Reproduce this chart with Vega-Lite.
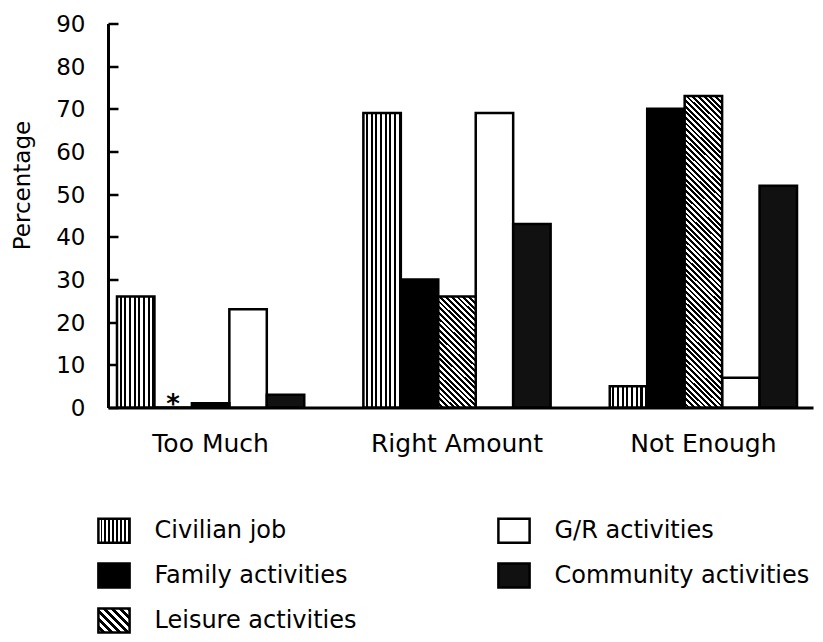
{
  "$schema": "https://vega.github.io/schema/vega-lite/v6.json",
  "width": 705,
  "height": 384,
  "autosize": {"type": "none"},
  "padding": {"left": 108, "top": 23.5, "right": 10, "bottom": 234.5},
  "background": "white",
  "config": {
    "view": {"stroke": null},
    "font": "DejaVu Sans",
    "axis": {"grid": false, "domainColor": "#000", "tickColor": "#000", "labelColor": "#000", "titleColor": "#000", "labelFont": "DejaVu Sans", "titleFont": "DejaVu Sans"}
  },
  "data": {
    "values": [
      {"group": "Too Much", "series": "Civilian job", "value": 26, "note": ""},
      {"group": "Too Much", "series": "Family activities", "value": 0, "note": "*"},
      {"group": "Too Much", "series": "Leisure activities", "value": 1, "note": ""},
      {"group": "Too Much", "series": "G/R activities", "value": 23, "note": ""},
      {"group": "Too Much", "series": "Community activities", "value": 3, "note": ""},
      {"group": "Right Amount", "series": "Civilian job", "value": 69, "note": ""},
      {"group": "Right Amount", "series": "Family activities", "value": 30, "note": ""},
      {"group": "Right Amount", "series": "Leisure activities", "value": 26, "note": ""},
      {"group": "Right Amount", "series": "G/R activities", "value": 69, "note": ""},
      {"group": "Right Amount", "series": "Community activities", "value": 43, "note": ""},
      {"group": "Not Enough", "series": "Civilian job", "value": 5, "note": ""},
      {"group": "Not Enough", "series": "Family activities", "value": 70, "note": ""},
      {"group": "Not Enough", "series": "Leisure activities", "value": 73, "note": ""},
      {"group": "Not Enough", "series": "G/R activities", "value": 7, "note": ""},
      {"group": "Not Enough", "series": "Community activities", "value": 52, "note": ""}
    ]
  },
  "layer": [
    {
      "transform": [{"filter": "datum.series !== 'Leisure activities'"}],
      "mark": {"type": "bar", "stroke": "#000", "strokeWidth": 2.5},
      "encoding": {
        "x": {
          "field": "group", "type": "nominal",
          "scale": {"domain": ["Too Much", "Right Amount", "Not Enough"], "paddingInner": 0.24, "paddingOuter": 0.0507, "align": 0.36},
          "axis": {"title": null, "labelAngle": 0, "ticks": false, "domainWidth": 3, "labelFontSize": 25, "labelPadding": 24}
        },
        "xOffset": {
          "field": "series", "type": "nominal",
          "scale": {"domain": ["Civilian job", "Family activities", "Leisure activities", "G/R activities", "Community activities"], "paddingInner": 0, "paddingOuter": 0}
        },
        "y": {
          "field": "value", "type": "quantitative",
          "scale": {"domain": [0, 90], "nice": false},
          "axis": {"title": "Percentage", "values": [0, 10, 20, 30, 40, 50, 60, 70, 80, 90], "tickSize": -10, "tickWidth": 2.5, "domainWidth": 3, "labelFontSize": 23, "labelPadding": 33, "labelOffset": 1, "titleFontSize": 23, "titleFontWeight": "normal", "titleX": -86, "titleY": 161.5, "titleAngle": -90, "titleAlign": "center", "titleBaseline": "middle"}
        },
        "fill": {
          "field": "series", "type": "nominal",
          "scale": {
            "domain": ["Civilian job", "Family activities", "Leisure activities", "G/R activities", "Community activities"],
            "range": [
              {"expr": "{gradient:'linear',x1:0,y1:0,x2:1,y2:0,stops:[{offset:0,color:'#fff'},{offset:0.07,color:'#fff'},{offset:0.07,color:'#000'},{offset:0.125,color:'#000'},{offset:0.125,color:'#fff'},{offset:0.195,color:'#fff'},{offset:0.195,color:'#000'},{offset:0.25,color:'#000'},{offset:0.25,color:'#fff'},{offset:0.32,color:'#fff'},{offset:0.32,color:'#000'},{offset:0.375,color:'#000'},{offset:0.375,color:'#fff'},{offset:0.445,color:'#fff'},{offset:0.445,color:'#000'},{offset:0.5,color:'#000'},{offset:0.5,color:'#fff'},{offset:0.57,color:'#fff'},{offset:0.57,color:'#000'},{offset:0.625,color:'#000'},{offset:0.625,color:'#fff'},{offset:0.695,color:'#fff'},{offset:0.695,color:'#000'},{offset:0.75,color:'#000'},{offset:0.75,color:'#fff'},{offset:0.82,color:'#fff'},{offset:0.82,color:'#000'},{offset:0.875,color:'#000'},{offset:0.875,color:'#fff'},{offset:0.945,color:'#fff'},{offset:0.945,color:'#000'},{offset:1,color:'#000'}]}"},
              "#000000",
              {"expr": "{gradient:'linear',x1:0,y1:1,x2:1.109,y2:0.14,stops:[{offset:0,color:'#fff'},{offset:0.0714,color:'#fff'},{offset:0.0714,color:'#000'},{offset:0.1429,color:'#000'},{offset:0.1429,color:'#fff'},{offset:0.2143,color:'#fff'},{offset:0.2143,color:'#000'},{offset:0.2857,color:'#000'},{offset:0.2857,color:'#fff'},{offset:0.3571,color:'#fff'},{offset:0.3571,color:'#000'},{offset:0.4286,color:'#000'},{offset:0.4286,color:'#fff'},{offset:0.5,color:'#fff'},{offset:0.5,color:'#000'},{offset:0.5714,color:'#000'},{offset:0.5714,color:'#fff'},{offset:0.6429,color:'#fff'},{offset:0.6429,color:'#000'},{offset:0.7143,color:'#000'},{offset:0.7143,color:'#fff'},{offset:0.7857,color:'#fff'},{offset:0.7857,color:'#000'},{offset:0.8571,color:'#000'},{offset:0.8571,color:'#fff'},{offset:0.9286,color:'#fff'},{offset:0.9286,color:'#000'},{offset:1,color:'#000'}]}"},
              "#ffffff",
              "#111111"
            ]
          },
          "legend": {
            "title": null, "orient": "none", "legendX": -7.5, "legendY": 493.5, "columns": 2, "columnPadding": 135, "rowPadding": 10, "padding": 0,
            "symbolType": "M-1.3,-1H1.3V1H-1.3Z", "symbolSize": 576, "symbolStrokeColor": "#000", "symbolStrokeWidth": 2.5, "symbolOpacity": 1,
            "labelFontSize": 24, "labelOffset": 27, "labelFont": "DejaVu Sans", "labelColor": "#000", "labelLimit": 400
          }
        }
      }
    },
    {
      "transform": [{"filter": "datum.series === 'Leisure activities'"}],
      "mark": {"type": "bar", "stroke": "#000", "strokeWidth": 2.5},
      "encoding": {
        "x": {"field": "group", "type": "nominal", "scale": {"domain": ["Too Much", "Right Amount", "Not Enough"], "paddingInner": 0.24, "paddingOuter": 0.0507, "align": 0.36}},
        "xOffset": {"field": "series", "type": "nominal", "scale": {"domain": ["Civilian job", "Family activities", "Leisure activities", "G/R activities", "Community activities"], "paddingInner": 0, "paddingOuter": 0}},
        "y": {"field": "value", "type": "quantitative", "scale": {"domain": [0, 90], "nice": false}},
        "color": {
          "field": "group", "type": "nominal", "legend": null,
          "scale": {
            "domain": ["Too Much", "Right Amount", "Not Enough"],
            "range": [
              "#000000",
              {"expr": "{gradient:'linear',x1:0,y1:1,x2:0.4,y2:-0.2,stops:[{offset:0,color:'#fff'},{offset:0.0192,color:'#fff'},{offset:0.0192,color:'#000'},{offset:0.0385,color:'#000'},{offset:0.0385,color:'#fff'},{offset:0.0577,color:'#fff'},{offset:0.0577,color:'#000'},{offset:0.0769,color:'#000'},{offset:0.0769,color:'#fff'},{offset:0.0962,color:'#fff'},{offset:0.0962,color:'#000'},{offset:0.1154,color:'#000'},{offset:0.1154,color:'#fff'},{offset:0.1346,color:'#fff'},{offset:0.1346,color:'#000'},{offset:0.1538,color:'#000'},{offset:0.1538,color:'#fff'},{offset:0.1731,color:'#fff'},{offset:0.1731,color:'#000'},{offset:0.1923,color:'#000'},{offset:0.1923,color:'#fff'},{offset:0.2115,color:'#fff'},{offset:0.2115,color:'#000'},{offset:0.2308,color:'#000'},{offset:0.2308,color:'#fff'},{offset:0.25,color:'#fff'},{offset:0.25,color:'#000'},{offset:0.2692,color:'#000'},{offset:0.2692,color:'#fff'},{offset:0.2885,color:'#fff'},{offset:0.2885,color:'#000'},{offset:0.3077,color:'#000'},{offset:0.3077,color:'#fff'},{offset:0.3269,color:'#fff'},{offset:0.3269,color:'#000'},{offset:0.3462,color:'#000'},{offset:0.3462,color:'#fff'},{offset:0.3654,color:'#fff'},{offset:0.3654,color:'#000'},{offset:0.3846,color:'#000'},{offset:0.3846,color:'#fff'},{offset:0.4038,color:'#fff'},{offset:0.4038,color:'#000'},{offset:0.4231,color:'#000'},{offset:0.4231,color:'#fff'},{offset:0.4423,color:'#fff'},{offset:0.4423,color:'#000'},{offset:0.4615,color:'#000'},{offset:0.4615,color:'#fff'},{offset:0.4808,color:'#fff'},{offset:0.4808,color:'#000'},{offset:0.5,color:'#000'},{offset:0.5,color:'#fff'},{offset:0.5192,color:'#fff'},{offset:0.5192,color:'#000'},{offset:0.5385,color:'#000'},{offset:0.5385,color:'#fff'},{offset:0.5577,color:'#fff'},{offset:0.5577,color:'#000'},{offset:0.5769,color:'#000'},{offset:0.5769,color:'#fff'},{offset:0.5962,color:'#fff'},{offset:0.5962,color:'#000'},{offset:0.6154,color:'#000'},{offset:0.6154,color:'#fff'},{offset:0.6346,color:'#fff'},{offset:0.6346,color:'#000'},{offset:0.6538,color:'#000'},{offset:0.6538,color:'#fff'},{offset:0.6731,color:'#fff'},{offset:0.6731,color:'#000'},{offset:0.6923,color:'#000'},{offset:0.6923,color:'#fff'},{offset:0.7115,color:'#fff'},{offset:0.7115,color:'#000'},{offset:0.7308,color:'#000'},{offset:0.7308,color:'#fff'},{offset:0.75,color:'#fff'},{offset:0.75,color:'#000'},{offset:0.7692,color:'#000'},{offset:0.7692,color:'#fff'},{offset:0.7885,color:'#fff'},{offset:0.7885,color:'#000'},{offset:0.8077,color:'#000'},{offset:0.8077,color:'#fff'},{offset:0.8269,color:'#fff'},{offset:0.8269,color:'#000'},{offset:0.8462,color:'#000'},{offset:0.8462,color:'#fff'},{offset:0.8654,color:'#fff'},{offset:0.8654,color:'#000'},{offset:0.8846,color:'#000'},{offset:0.8846,color:'#fff'},{offset:0.9038,color:'#fff'},{offset:0.9038,color:'#000'},{offset:0.9231,color:'#000'},{offset:0.9231,color:'#fff'},{offset:0.9423,color:'#fff'},{offset:0.9423,color:'#000'},{offset:0.9615,color:'#000'},{offset:0.9615,color:'#fff'},{offset:0.9808,color:'#fff'},{offset:0.9808,color:'#000'},{offset:1,color:'#000'}]}"},
              {"expr": "{gradient:'linear',x1:0,y1:1,x2:0.1311,y2:-0.1032,stops:[{offset:0,color:'#fff'},{offset:0.0081,color:'#fff'},{offset:0.0081,color:'#000'},{offset:0.0161,color:'#000'},{offset:0.0161,color:'#fff'},{offset:0.0242,color:'#fff'},{offset:0.0242,color:'#000'},{offset:0.0323,color:'#000'},{offset:0.0323,color:'#fff'},{offset:0.0403,color:'#fff'},{offset:0.0403,color:'#000'},{offset:0.0484,color:'#000'},{offset:0.0484,color:'#fff'},{offset:0.0565,color:'#fff'},{offset:0.0565,color:'#000'},{offset:0.0645,color:'#000'},{offset:0.0645,color:'#fff'},{offset:0.0726,color:'#fff'},{offset:0.0726,color:'#000'},{offset:0.0806,color:'#000'},{offset:0.0806,color:'#fff'},{offset:0.0887,color:'#fff'},{offset:0.0887,color:'#000'},{offset:0.0968,color:'#000'},{offset:0.0968,color:'#fff'},{offset:0.1048,color:'#fff'},{offset:0.1048,color:'#000'},{offset:0.1129,color:'#000'},{offset:0.1129,color:'#fff'},{offset:0.121,color:'#fff'},{offset:0.121,color:'#000'},{offset:0.129,color:'#000'},{offset:0.129,color:'#fff'},{offset:0.1371,color:'#fff'},{offset:0.1371,color:'#000'},{offset:0.1452,color:'#000'},{offset:0.1452,color:'#fff'},{offset:0.1532,color:'#fff'},{offset:0.1532,color:'#000'},{offset:0.1613,color:'#000'},{offset:0.1613,color:'#fff'},{offset:0.1694,color:'#fff'},{offset:0.1694,color:'#000'},{offset:0.1774,color:'#000'},{offset:0.1774,color:'#fff'},{offset:0.1855,color:'#fff'},{offset:0.1855,color:'#000'},{offset:0.1935,color:'#000'},{offset:0.1935,color:'#fff'},{offset:0.2016,color:'#fff'},{offset:0.2016,color:'#000'},{offset:0.2097,color:'#000'},{offset:0.2097,color:'#fff'},{offset:0.2177,color:'#fff'},{offset:0.2177,color:'#000'},{offset:0.2258,color:'#000'},{offset:0.2258,color:'#fff'},{offset:0.2339,color:'#fff'},{offset:0.2339,color:'#000'},{offset:0.2419,color:'#000'},{offset:0.2419,color:'#fff'},{offset:0.25,color:'#fff'},{offset:0.25,color:'#000'},{offset:0.2581,color:'#000'},{offset:0.2581,color:'#fff'},{offset:0.2661,color:'#fff'},{offset:0.2661,color:'#000'},{offset:0.2742,color:'#000'},{offset:0.2742,color:'#fff'},{offset:0.2823,color:'#fff'},{offset:0.2823,color:'#000'},{offset:0.2903,color:'#000'},{offset:0.2903,color:'#fff'},{offset:0.2984,color:'#fff'},{offset:0.2984,color:'#000'},{offset:0.3065,color:'#000'},{offset:0.3065,color:'#fff'},{offset:0.3145,color:'#fff'},{offset:0.3145,color:'#000'},{offset:0.3226,color:'#000'},{offset:0.3226,color:'#fff'},{offset:0.3306,color:'#fff'},{offset:0.3306,color:'#000'},{offset:0.3387,color:'#000'},{offset:0.3387,color:'#fff'},{offset:0.3468,color:'#fff'},{offset:0.3468,color:'#000'},{offset:0.3548,color:'#000'},{offset:0.3548,color:'#fff'},{offset:0.3629,color:'#fff'},{offset:0.3629,color:'#000'},{offset:0.371,color:'#000'},{offset:0.371,color:'#fff'},{offset:0.379,color:'#fff'},{offset:0.379,color:'#000'},{offset:0.3871,color:'#000'},{offset:0.3871,color:'#fff'},{offset:0.3952,color:'#fff'},{offset:0.3952,color:'#000'},{offset:0.4032,color:'#000'},{offset:0.4032,color:'#fff'},{offset:0.4113,color:'#fff'},{offset:0.4113,color:'#000'},{offset:0.4194,color:'#000'},{offset:0.4194,color:'#fff'},{offset:0.4274,color:'#fff'},{offset:0.4274,color:'#000'},{offset:0.4355,color:'#000'},{offset:0.4355,color:'#fff'},{offset:0.4435,color:'#fff'},{offset:0.4435,color:'#000'},{offset:0.4516,color:'#000'},{offset:0.4516,color:'#fff'},{offset:0.4597,color:'#fff'},{offset:0.4597,color:'#000'},{offset:0.4677,color:'#000'},{offset:0.4677,color:'#fff'},{offset:0.4758,color:'#fff'},{offset:0.4758,color:'#000'},{offset:0.4839,color:'#000'},{offset:0.4839,color:'#fff'},{offset:0.4919,color:'#fff'},{offset:0.4919,color:'#000'},{offset:0.5,color:'#000'},{offset:0.5,color:'#fff'},{offset:0.5081,color:'#fff'},{offset:0.5081,color:'#000'},{offset:0.5161,color:'#000'},{offset:0.5161,color:'#fff'},{offset:0.5242,color:'#fff'},{offset:0.5242,color:'#000'},{offset:0.5323,color:'#000'},{offset:0.5323,color:'#fff'},{offset:0.5403,color:'#fff'},{offset:0.5403,color:'#000'},{offset:0.5484,color:'#000'},{offset:0.5484,color:'#fff'},{offset:0.5565,color:'#fff'},{offset:0.5565,color:'#000'},{offset:0.5645,color:'#000'},{offset:0.5645,color:'#fff'},{offset:0.5726,color:'#fff'},{offset:0.5726,color:'#000'},{offset:0.5806,color:'#000'},{offset:0.5806,color:'#fff'},{offset:0.5887,color:'#fff'},{offset:0.5887,color:'#000'},{offset:0.5968,color:'#000'},{offset:0.5968,color:'#fff'},{offset:0.6048,color:'#fff'},{offset:0.6048,color:'#000'},{offset:0.6129,color:'#000'},{offset:0.6129,color:'#fff'},{offset:0.621,color:'#fff'},{offset:0.621,color:'#000'},{offset:0.629,color:'#000'},{offset:0.629,color:'#fff'},{offset:0.6371,color:'#fff'},{offset:0.6371,color:'#000'},{offset:0.6452,color:'#000'},{offset:0.6452,color:'#fff'},{offset:0.6532,color:'#fff'},{offset:0.6532,color:'#000'},{offset:0.6613,color:'#000'},{offset:0.6613,color:'#fff'},{offset:0.6694,color:'#fff'},{offset:0.6694,color:'#000'},{offset:0.6774,color:'#000'},{offset:0.6774,color:'#fff'},{offset:0.6855,color:'#fff'},{offset:0.6855,color:'#000'},{offset:0.6935,color:'#000'},{offset:0.6935,color:'#fff'},{offset:0.7016,color:'#fff'},{offset:0.7016,color:'#000'},{offset:0.7097,color:'#000'},{offset:0.7097,color:'#fff'},{offset:0.7177,color:'#fff'},{offset:0.7177,color:'#000'},{offset:0.7258,color:'#000'},{offset:0.7258,color:'#fff'},{offset:0.7339,color:'#fff'},{offset:0.7339,color:'#000'},{offset:0.7419,color:'#000'},{offset:0.7419,color:'#fff'},{offset:0.75,color:'#fff'},{offset:0.75,color:'#000'},{offset:0.7581,color:'#000'},{offset:0.7581,color:'#fff'},{offset:0.7661,color:'#fff'},{offset:0.7661,color:'#000'},{offset:0.7742,color:'#000'},{offset:0.7742,color:'#fff'},{offset:0.7823,color:'#fff'},{offset:0.7823,color:'#000'},{offset:0.7903,color:'#000'},{offset:0.7903,color:'#fff'},{offset:0.7984,color:'#fff'},{offset:0.7984,color:'#000'},{offset:0.8065,color:'#000'},{offset:0.8065,color:'#fff'},{offset:0.8145,color:'#fff'},{offset:0.8145,color:'#000'},{offset:0.8226,color:'#000'},{offset:0.8226,color:'#fff'},{offset:0.8306,color:'#fff'},{offset:0.8306,color:'#000'},{offset:0.8387,color:'#000'},{offset:0.8387,color:'#fff'},{offset:0.8468,color:'#fff'},{offset:0.8468,color:'#000'},{offset:0.8548,color:'#000'},{offset:0.8548,color:'#fff'},{offset:0.8629,color:'#fff'},{offset:0.8629,color:'#000'},{offset:0.871,color:'#000'},{offset:0.871,color:'#fff'},{offset:0.879,color:'#fff'},{offset:0.879,color:'#000'},{offset:0.8871,color:'#000'},{offset:0.8871,color:'#fff'},{offset:0.8952,color:'#fff'},{offset:0.8952,color:'#000'},{offset:0.9032,color:'#000'},{offset:0.9032,color:'#fff'},{offset:0.9113,color:'#fff'},{offset:0.9113,color:'#000'},{offset:0.9194,color:'#000'},{offset:0.9194,color:'#fff'},{offset:0.9274,color:'#fff'},{offset:0.9274,color:'#000'},{offset:0.9355,color:'#000'},{offset:0.9355,color:'#fff'},{offset:0.9435,color:'#fff'},{offset:0.9435,color:'#000'},{offset:0.9516,color:'#000'},{offset:0.9516,color:'#fff'},{offset:0.9597,color:'#fff'},{offset:0.9597,color:'#000'},{offset:0.9677,color:'#000'},{offset:0.9677,color:'#fff'},{offset:0.9758,color:'#fff'},{offset:0.9758,color:'#000'},{offset:0.9839,color:'#000'},{offset:0.9839,color:'#fff'},{offset:0.9919,color:'#fff'},{offset:0.9919,color:'#000'},{offset:1,color:'#000'}]}"}
            ]
          }
        }
      }
    },
    {
      "transform": [{"filter": "datum.note === '*'"}],
      "mark": {"type": "text", "fontSize": 26, "fontWeight": "bold", "font": "DejaVu Sans", "baseline": "alphabetic", "dy": 5, "color": "#000"},
      "encoding": {
        "x": {"field": "group", "type": "nominal", "scale": {"domain": ["Too Much", "Right Amount", "Not Enough"], "paddingInner": 0.24, "paddingOuter": 0.0507, "align": 0.36}},
        "xOffset": {"field": "series", "type": "nominal", "scale": {"domain": ["Civilian job", "Family activities", "Leisure activities", "G/R activities", "Community activities"], "paddingInner": 0, "paddingOuter": 0}},
        "y": {"field": "value", "type": "quantitative", "scale": {"domain": [0, 90], "nice": false}},
        "text": {"field": "note"}
      }
    }
  ]
}
